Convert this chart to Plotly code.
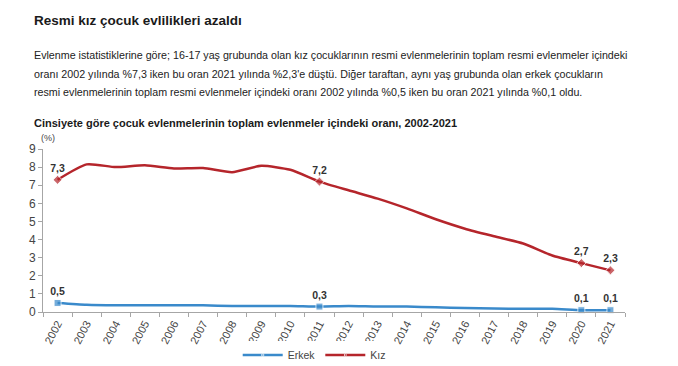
import plotly.graph_objects as go

years = [str(y) for y in range(2002, 2022)]
kiz = [7.3, 8.15, 8.0, 8.1, 7.93, 7.95, 7.72, 8.07, 7.85, 7.2,
       6.72, 6.26, 5.72, 5.12, 4.6, 4.18, 3.78, 3.12, 2.7, 2.3]
erkek = [0.5, 0.4, 0.37, 0.37, 0.37, 0.37, 0.33, 0.33, 0.33, 0.3,
         0.33, 0.3, 0.3, 0.26, 0.22, 0.19, 0.18, 0.18, 0.1, 0.1]
labeled_years = ["2002", "2011", "2020", "2021"]
y_ticks = list(range(0, 10))

title = "Resmi kız çocuk evlilikleri azaldı"
para = [
    "Evlenme istatistiklerine göre; 16-17 yaş grubunda olan kız çocuklarının resmi evlenmelerinin toplam resmi evlenmeler içindeki",
    "oranı 2002 yılında %7,3 iken bu oran 2021 yılında %2,3'e düştü. Diğer taraftan, aynı yaş grubunda olan erkek çocukların",
    "resmi evlenmelerinin toplam resmi evlenmeler içindeki oranı 2002 yılında %0,5 iken bu oran 2021 yılında %0,1 oldu.",
]
chart_title = "Cinsiyete göre çocuk evlenmelerinin toplam evlenmeler içindeki oranı, 2002-2021"

RED = "#B5252B"
BLUE = "#3A8ACB"
FONT = "Liberation Sans"

W, H = 678, 366
ML, MR, MT, MB = 43, 53, 149, 54


def fmt(v):
    return f"{v:.1f}".replace(".", ",")


def series(name, vals, color, symbol, msize):
    sizes = [msize if y in labeled_years else 0 for y in years]
    texts = [fmt(v) if y in labeled_years else "" for y, v in zip(years, vals)]
    return go.Scatter(
        x=years, y=vals, name=name, mode="lines+markers+text",
        line=dict(color=color, width=2.5, shape="spline", smoothing=0.6),
        marker=dict(color=color, size=sizes, symbol=symbol),
        text=texts, textposition="top center",
        textfont=dict(family=FONT, size=10.5, color="#333333", weight="bold"),
        cliponaxis=False,
    )


fig = go.Figure()
fig.add_trace(series("Erkek", erkek, BLUE, "square", 7))
fig.add_trace(series("Kız", kiz, RED, "diamond", 7))

fig.update_layout(
    width=W, height=H,
    margin=dict(l=ML, r=MR, t=MT, b=MB, autoexpand=False),
    paper_bgcolor="white", plot_bgcolor="white",
    font=dict(family=FONT, size=11, color="#333333"),
    showlegend=True,
    legend=dict(orientation="h", x=0.466, xanchor="center", yref="container",
                y=1 - 355 / H, yanchor="middle",
                font=dict(family=FONT, size=10.5, color="#444444"),
                itemwidth=40, tracegroupgap=0),
    xaxis=dict(type="category", range=[-0.5, len(years) - 0.5],
               showgrid=False, showline=True, linecolor="#A6A6A6",
               linewidth=1, ticks="outside", tickson="boundaries", ticklen=4,
               tickcolor="#A6A6A6", tickangle=-62,
               tickfont=dict(family=FONT, size=11, color="#444444")),
    yaxis=dict(range=[0, 9], tickvals=y_ticks, showgrid=False, showline=True,
               linecolor="#A6A6A6", linewidth=1, ticks="outside", ticklen=4,
               tickcolor="#A6A6A6", zeroline=False,
               tickfont=dict(family=FONT, size=12, color="#444444")),
)

anns = [
    dict(text="<b>" + title + "</b>", x=32, y=20, font=dict(size=13.5, color="#1a1a1a")),
    dict(text="<b>" + chart_title + "</b>", x=32, y=123, font=dict(size=11, color="#1a1a1a")),
    dict(text="(%)", x=39, y=138, font=dict(size=9, color="#444444")),
]
for i, line in enumerate(para):
    anns.append(dict(text=line, x=32, y=55 + i * 18.5, font=dict(size=10.7, color="#222222")))

for a in anns:
    fig.add_annotation(xref="paper", yref="paper", xanchor="left", yanchor="middle",
                       showarrow=False, text=a["text"],
                       x=(a["x"] - ML) / (W - ML - MR),
                       y=1 - (a["y"] - MT) / (H - MT - MB),
                       font=dict(family=FONT, **a["font"]))

fig.write_html("out.html", config={"displayModeBar": False},
               post_script="document.body.style.margin='0';")
